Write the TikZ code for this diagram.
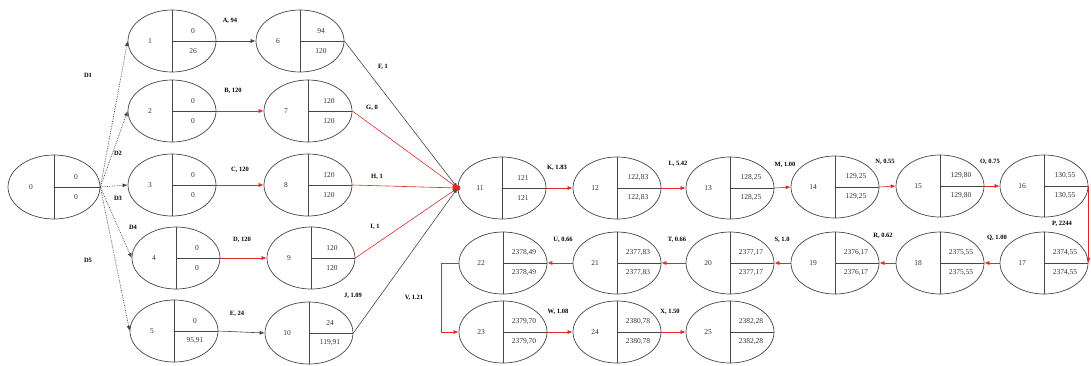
\documentclass[tikz,border=0pt]{standalone}
\usepackage{fontspec}
\setmainfont{Liberation Serif}
\usetikzlibrary{shapes.geometric,arrows.meta}
\definecolor{redc}{RGB}{222,40,40}
\definecolor{linec}{RGB}{70,70,70}
\tikzset{
  evt/.style={ellipse,draw=linec,line width=0.7pt,minimum width=88pt,minimum height=62pt,inner sep=0pt},
  divl/.style={draw=linec,line width=0.9pt},
  txt/.style={font=\fontsize{7.5}{8}\selectfont,inner sep=0pt,text=black!80},
  lbl/.style={font=\fontsize{6.5}{7}\selectfont\bfseries,inner sep=0pt},
  blk/.style={draw=linec,line width=0.6pt,-{Latex[length=5pt,width=4pt]}},
  redl/.style={draw=redc,line width=0.6pt,-{Latex[length=5pt,width=4pt]}},
  dotl/.style={draw=linec,line width=0.7pt,densely dotted,-{Latex[length=5pt,width=4pt]}}
}
\newcommand\evtnode[6]{%
  \node[evt] (#1) at (#2,#3) {};
  \draw[divl] (#1.north) -- (#1.south);
  \draw[divl] (#1.center) -- (#1.east);
  \node[txt] (#1n) at ([xshift=-22pt]#1.center) {#4};
  \node[txt] (#1t) at ([xshift=21pt,yshift=10pt]#1.center) {#5};
  \node[txt] (#1b) at ([xshift=21pt,yshift=-10pt]#1.center) {#6};
}
\begin{document}
\begin{tikzpicture}[x=1pt,y=-1pt]
\useasboundingbox (0,0) rectangle (1091,365);
% events
\node[evt,minimum width=92pt,minimum height=64pt] (n0) at (54,187) {};
\draw[divl] (n0.north) -- (n0.south);
\draw[divl] (n0.center) -- (n0.east);
\node[txt] (n0n) at ([xshift=-23pt]n0.center) {0};
\node[txt] (n0t) at ([xshift=22pt,yshift=10pt]n0.center) {0};
\node[txt] (n0b) at ([xshift=22pt,yshift=-10pt]n0.center) {0};
\evtnode{n1}{172}{41}{1}{0}{26}
\evtnode{n2}{172}{111}{2}{0}{0}
\evtnode{n3}{172}{185}{3}{0}{0}
\evtnode{n4}{176}{258}{4}{0}{0}
\evtnode{n5}{174}{331}{5}{0}{95,91}
\evtnode{n6}{300}{41}{6}{94}{120}
\evtnode{n7}{308}{111}{7}{120}{120}
\evtnode{n8}{308}{185}{8}{120}{120}
\evtnode{n9}{311}{258}{9}{120}{120}
\evtnode{n10}{309}{333}{10}{24}{119,91}
\evtnode{n11}{502}{188}{11}{121}{121}
\evtnode{n12}{617}{188}{12}{122,83}{122,83}
\evtnode{n13}{730}{188}{13}{128,25}{128,25}
\evtnode{n14}{835}{187}{14}{129,25}{129,25}
\evtnode{n15}{940}{186}{15}{129,80}{129,80}
\evtnode{n16}{1044}{186}{16}{130,55}{130,55}
\evtnode{n17}{1044}{263}{17}{2374,55}{2374,55}
\evtnode{n18}{940}{263}{18}{2375,55}{2375,55}
\evtnode{n19}{835}{263}{19}{2376,17}{2376,17}
\evtnode{n20}{730}{263}{20}{2377,17}{2377,17}
\evtnode{n21}{617}{263}{21}{2377,83}{2377,83}
\evtnode{n22}{503}{263}{22}{2378,49}{2378,49}
\evtnode{n23}{503}{332}{23}{2379,70}{2379,70}
\evtnode{n24}{617}{332}{24}{2380,78}{2380,78}
\evtnode{n25}{730}{332}{25}{2382,28}{2382,28}
% dummy arrows
\draw[dotl] (n0.east) -- (n1.west);
\draw[dotl] (n0.east) -- (n2.west);
\draw[dotl] (n0.east) -- (n3.west);
\draw[dotl] (n0.east) -- (n4.west);
\draw[dotl] (n0.east) -- (n5.west);
\node[lbl] (lD1) at (88,75) {D1};
\node[lbl] (lD2) at (118,153) {D2};
\node[lbl] (lD3) at (118,198) {D3};
\node[lbl] (lD4) at (133,227) {D4};
\node[lbl] (lD5) at (88,260) {D5};
% first activities
\draw[blk] (n1.east) -- (n6.west);
\draw[redl] (n2.east) -- (n7.west);
\draw[redl] (n3.east) -- (n8.west);
\draw[redl] (n4.east) -- (n9.west);
\draw[blk] (n5.east) -- (n10.west);
\node[lbl] (lA) at (230,21) {A, 94};
\node[lbl] (lB) at (233,91) {B, 120};
\node[lbl] (lC) at (240,170) {C, 120};
\node[lbl] (lDa) at (242,240) {D, 120};
\node[lbl] (lE) at (237,314) {E, 24};
% converging
\draw[blk] (n6.east) -- (n11.west);
\draw[redl] (n7.east) -- (n11.west);
\draw[redl] (n8.east) -- (n11.west);
\draw[redl] (n9.east) -- (n11.west);
\draw[blk] (n10.east) -- (n11.west);
\fill[redc] (n11.west) circle (2.8pt);
\node[lbl] (lF) at (383,67) {F, 1};
\node[lbl] (lG) at (372,108) {G, 0};
\node[lbl] (lH) at (377,177) {H, 1};
\node[lbl] (lI) at (375,227) {I, 1};
\node[lbl] (lJ) at (353,296) {J, 1.09};
% row 1
\draw[redl] (n11.east) -- (n12.west);
\draw[redl] (n12.east) -- (n13.west);
\draw[redl] (n13.east) -- (n14.west);
\draw[redl] (n14.east) -- (n15.west);
\draw[redl] (n15.east) -- (n16.west);
\node[lbl] (lK) at (557,168) {K, 1.83};
\node[lbl] (lL) at (678,164) {L, 5.42};
\node[lbl] (lM) at (785,165) {M, 1.00};
\node[lbl] (lN) at (885,162) {N, 0.55};
\node[lbl] (lO) at (990,162) {O, 0.75};
% down
\draw[redl] (n16.east) -- (n17.east);
\node[lbl] (lP) at (1062,224) {P, 2244};
% row 2
\draw[redl] (n17.west) -- (n18.east);
\draw[redl] (n18.west) -- (n19.east);
\draw[redl] (n19.west) -- (n20.east);
\draw[redl] (n20.west) -- (n21.east);
\draw[redl] (n21.west) -- (n22.east);
\node[lbl] (lQ) at (997,238) {Q, 1.00};
\node[lbl] (lR) at (883,236) {R, 0.62};
\node[lbl] (lS) at (782,240) {S, 1.0};
\node[lbl] (lT) at (677,240) {T, 0.66};
\node[lbl] (lU) at (563,240) {U, 0.66};
% turn
\coordinate (vL) at (441,263);
\draw[redl] (n22.west) -- (vL) |- (n23.west);
\node[lbl] (lV) at (414,298) {V, 1.21};
% row 3
\draw[redl] (n23.east) -- (n24.west);
\draw[redl] (n24.east) -- (n25.west);
\node[lbl] (lW) at (558,312) {W, 1.08};
\node[lbl] (lX) at (670,312) {X, 1.50};
\end{tikzpicture}
\end{document}
